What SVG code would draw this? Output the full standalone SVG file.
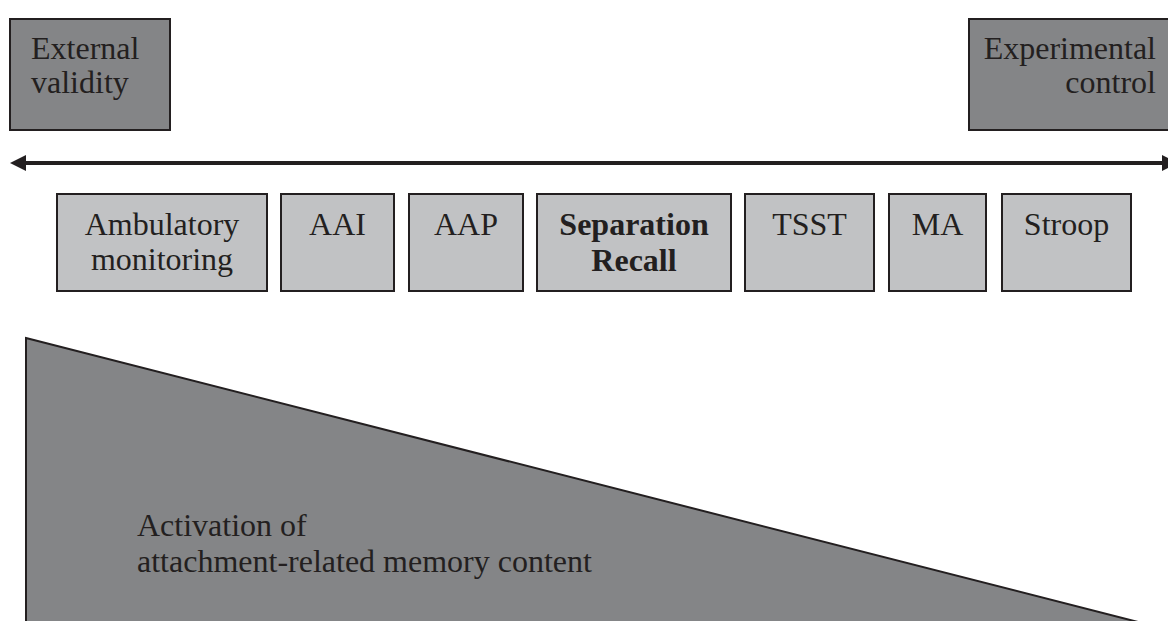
<svg xmlns="http://www.w3.org/2000/svg" width="1168" height="621" viewBox="0 0 1168 621">
<style>
.dark{fill:#848587;stroke:#231f20;stroke-width:2}
.light{fill:#c1c2c4;stroke:#231f20;stroke-width:2}
text{font-family:"Liberation Serif","Times New Roman",serif;font-size:32px;fill:#231f20}
.c{text-anchor:middle}
.b{font-weight:bold}
</style>
<rect width="1168" height="621" fill="#ffffff"/>
<g id="external-validity">
<rect class="dark" x="10" y="19" width="160" height="111"/>
<text x="31" y="59">External</text>
<text x="31" y="93">validity</text>
</g>
<g id="experimental-control">
<rect class="dark" x="969" y="19" width="210" height="111"/>
<text x="1156" y="59" text-anchor="end">Experimental</text>
<text x="1156" y="93" text-anchor="end">control</text>
</g>
<g id="connectors">
<line x1="24" y1="163" x2="1164" y2="163" stroke="#231f20" stroke-width="4"/>
<polygon points="10,163 26,155 26,171" fill="#231f20"/>
<polygon points="1178,163 1162,155 1162,171" fill="#231f20"/>
</g>
<g id="ambulatory">
<rect class="light" x="57" y="194" width="210" height="97"/>
<text class="c" x="162" y="235">Ambulatory</text>
<text class="c" x="162" y="270">monitoring</text>
</g>
<g id="aai">
<rect class="light" x="281" y="194" width="113" height="97"/>
<text class="c" x="337.5" y="235">AAI</text>
</g>
<g id="aap">
<rect class="light" x="409" y="194" width="114" height="97"/>
<text class="c" x="466" y="235">AAP</text>
</g>
<g id="separation-recall">
<rect class="light" x="537" y="194" width="194" height="97"/>
<text class="c b" x="634" y="235">Separation</text>
<text class="c b" x="634" y="271">Recall</text>
</g>
<g id="tsst">
<rect class="light" x="745" y="194" width="129" height="97"/>
<text class="c" x="809.5" y="235">TSST</text>
</g>
<g id="ma">
<rect class="light" x="889" y="194" width="97" height="97"/>
<text class="c" x="937.5" y="235">MA</text>
</g>
<g id="stroop">
<rect class="light" x="1002" y="194" width="129" height="97"/>
<text class="c" x="1066.5" y="235">Stroop</text>
</g>
<g id="activation">
<polygon class="dark" points="26,338 1142,623 26,623"/>
<text x="137" y="536">Activation of</text>
<text x="137" y="572">attachment-related memory content</text>
</g>
</svg>
